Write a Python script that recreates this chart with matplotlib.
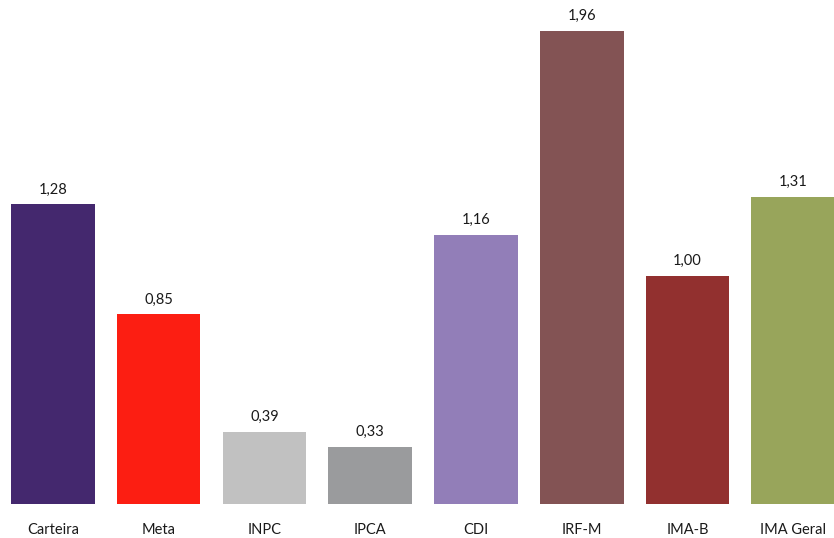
import matplotlib.pyplot as plt

plt.rcParams['font.family'] = ['Lato', 'DejaVu Sans']

categorias = ["Carteira", "Meta", "INPC", "IPCA", "CDI", "IRF-M", "IMA-B", "IMA Geral"]
valores = [1.28, 0.85, 0.39, 0.33, 1.16, 1.96, 1.00, 1.31]
cores = ["#44286E", "#FC1E12", "#C1C1C1", "#9A9B9D", "#927EB8", "#835354", "#92302F", "#98A55B"]

fig = plt.figure(figsize=(8.34, 5.38), dpi=100)
ax = fig.add_axes([0, 34 / 538, 1, 504 / 538])

x = range(len(categorias))
bars = ax.bar(x, valores, width=0.79, color=cores)
for b, v in zip(bars, valores):
    ax.text(b.get_x() + b.get_width() / 2, v + 0.03, f"{v:.2f}".replace(".", ","),
            ha="center", va="bottom", fontsize=10.5, color="#1a1a1a")

ax.set_xlim(-0.5, 7.385)
ax.set_ylim(0.106, 2.081)
ax.set_xticks(list(x))
ax.set_xticklabels(categorias, fontsize=10.5, color="#1a1a1a")
ax.tick_params(axis="x", length=0, pad=14)
ax.set_yticks([])
for s in ax.spines.values():
    s.set_visible(False)

fig.savefig("out.png", dpi=100)
